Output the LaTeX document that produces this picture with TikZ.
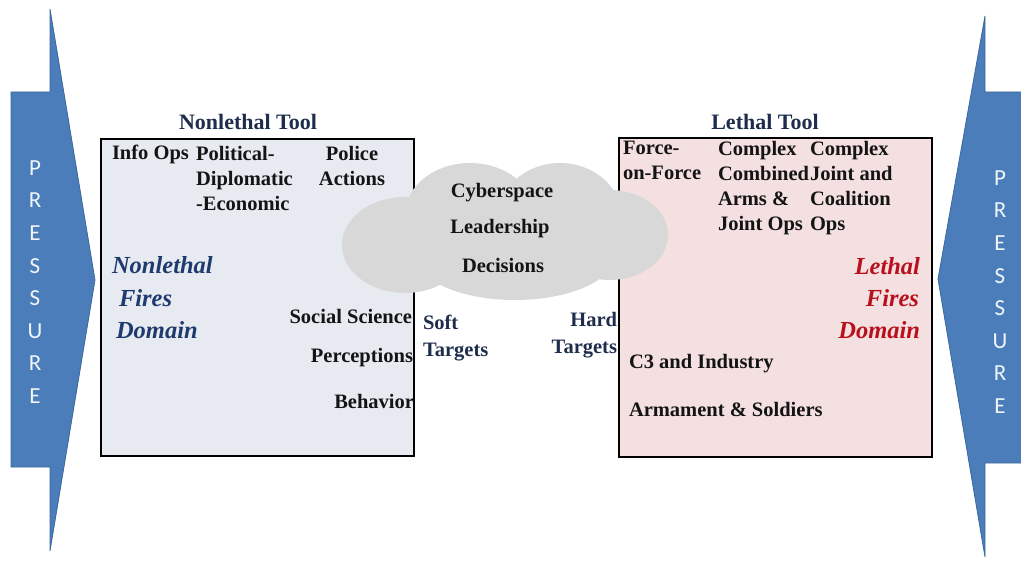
\documentclass[tikz,border=0pt]{standalone}
\usepackage{fontspec}
\setmainfont{Liberation Serif}
\newfontfamily\pressfont{Carlito}
\definecolor{arrowblue}{HTML}{4A7DBA}
\definecolor{arrowedge}{HTML}{3B689E}
\definecolor{nlfill}{HTML}{E7EBF1}
\definecolor{lfill}{HTML}{F4E0E0}
\definecolor{navy}{HTML}{1F2D4D}
\definecolor{txt}{HTML}{141414}
\definecolor{nlblue}{HTML}{1F3A6E}
\definecolor{lred}{HTML}{B8101C}
\definecolor{cloudgray}{HTML}{D8D8D8}
\begin{document}
\begin{tikzpicture}[x=1pt,y=-1pt,
  every node/.style={inner sep=0pt, outer sep=0pt},
  bodytxt/.style={text=txt, font=\fontsize{20.5}{25}\selectfont\bfseries},
  titletxt/.style={text=navy, font=\fontsize{22}{26}\selectfont\bfseries},
  nldom/.style={text=nlblue, font=\fontsize{24.5}{32}\selectfont\bfseries\itshape},
  ldom/.style={text=lred, font=\fontsize{24.5}{32}\selectfont\bfseries\itshape},
  tgt/.style={text=navy, font=\fontsize{20.5}{27}\selectfont\bfseries},
  presstxt/.style={text=white!92!arrowblue, align=center, font=\pressfont\fontsize{23}{32.6}\selectfont},
  arrowshape/.style={fill=arrowblue, draw=arrowedge, line width=0.8pt},
  domainbox/.style={draw=black, line width=2.4pt}
]
\useasboundingbox (0,0) rectangle (1021,564);

% pressure arrows
\draw[arrowshape] (11,92) -- (50,92) -- (50,9) -- (95,280) -- (50,551) -- (50,467) -- (11,467) -- cycle;
\draw[arrowshape] (1022,92) -- (985,92) -- (985,16) -- (938,279) -- (985,557) -- (985,463) -- (1022,463);
\node[presstxt] (pl) at (35,282) {P\\R\\E\\S\\S\\U\\R\\E};
\node[presstxt] (pr) at (1000,292) {P\\R\\E\\S\\S\\U\\R\\E};

% boxes
\node[domainbox, fill=nlfill, minimum width=313pt, minimum height=317pt, anchor=north west] (nlbox) at (101,139) {};
\node[domainbox, fill=lfill, minimum width=313pt, minimum height=319pt, anchor=north west] (lbox) at (619,138) {};

% cloud (drawn over the box borders)
\coordinate (cloud) at (505,235);
\fill[cloudgray] (cloud) ellipse [x radius=130, y radius=55]
  (405,245) ellipse [x radius=63, y radius=48]
  (470,215) ellipse [x radius=65, y radius=52]
  (560,218) ellipse [x radius=62, y radius=55]
  (610,235) ellipse [x radius=58, y radius=45]
  (515,255) ellipse [x radius=100, y radius=45];

% titles
\node[titletxt] (nltitle) at (248,122) {Nonlethal Tool};
\node[titletxt] (ltitle) at (765,122) {Lethal Tool};

% nonlethal box contents
\node[bodytxt, anchor=west] (infoops) at (112,154) {Info Ops};
\node[bodytxt, anchor=north west, align=left] (pde) at (196,146) {Political-\\Diplomatic\\-Economic};
\node[bodytxt, anchor=north, align=center] (police) at (352,146) {Police\\Actions};
\node[nldom, anchor=west] (nl1) at (112,265) {Nonlethal};
\node[nldom, anchor=west] (nl2) at (119,298) {Fires};
\node[nldom, anchor=west] (nl3) at (116,330) {Domain};
\node[bodytxt, anchor=east] (socsci) at (412,316) {Social Science};
\node[bodytxt, anchor=east] (percep) at (413,358) {Perceptions};
\node[bodytxt, anchor=east] (behav) at (414,401) {Behavior};

% lethal box contents
\node[bodytxt, anchor=north west, align=left] (fof) at (623,141) {Force-\\on-Force};
\node[bodytxt, anchor=north west, align=left] (ccaj) at (718,141) {Complex\\Combined\\Arms \&\\Joint Ops};
\node[bodytxt, anchor=north west, align=left] (cjco) at (810,141) {Complex\\Joint and\\Coalition\\Ops};
\node[ldom, anchor=east] (l1) at (920,266) {Lethal};
\node[ldom, anchor=east] (l2) at (919,298) {Fires};
\node[ldom, anchor=east] (l3) at (920,330) {Domain};
\node[bodytxt, anchor=west] (c3) at (629,364) {C3 and Industry};
\node[bodytxt, anchor=west] (arm) at (629,409) {Armament \& Soldiers};

% targets
\node[tgt, anchor=north west, align=left] (soft) at (423,315) {Soft\\Targets};
\node[tgt, anchor=north east, align=right] (hard) at (617,312) {Hard\\Targets};

% cloud text
\node[bodytxt] (cyber) at (502,193) {Cyberspace};
\node[bodytxt] (lead) at (500,229) {Leadership};
\node[bodytxt] (dec) at (503,265) {Decisions};
\end{tikzpicture}
\end{document}
